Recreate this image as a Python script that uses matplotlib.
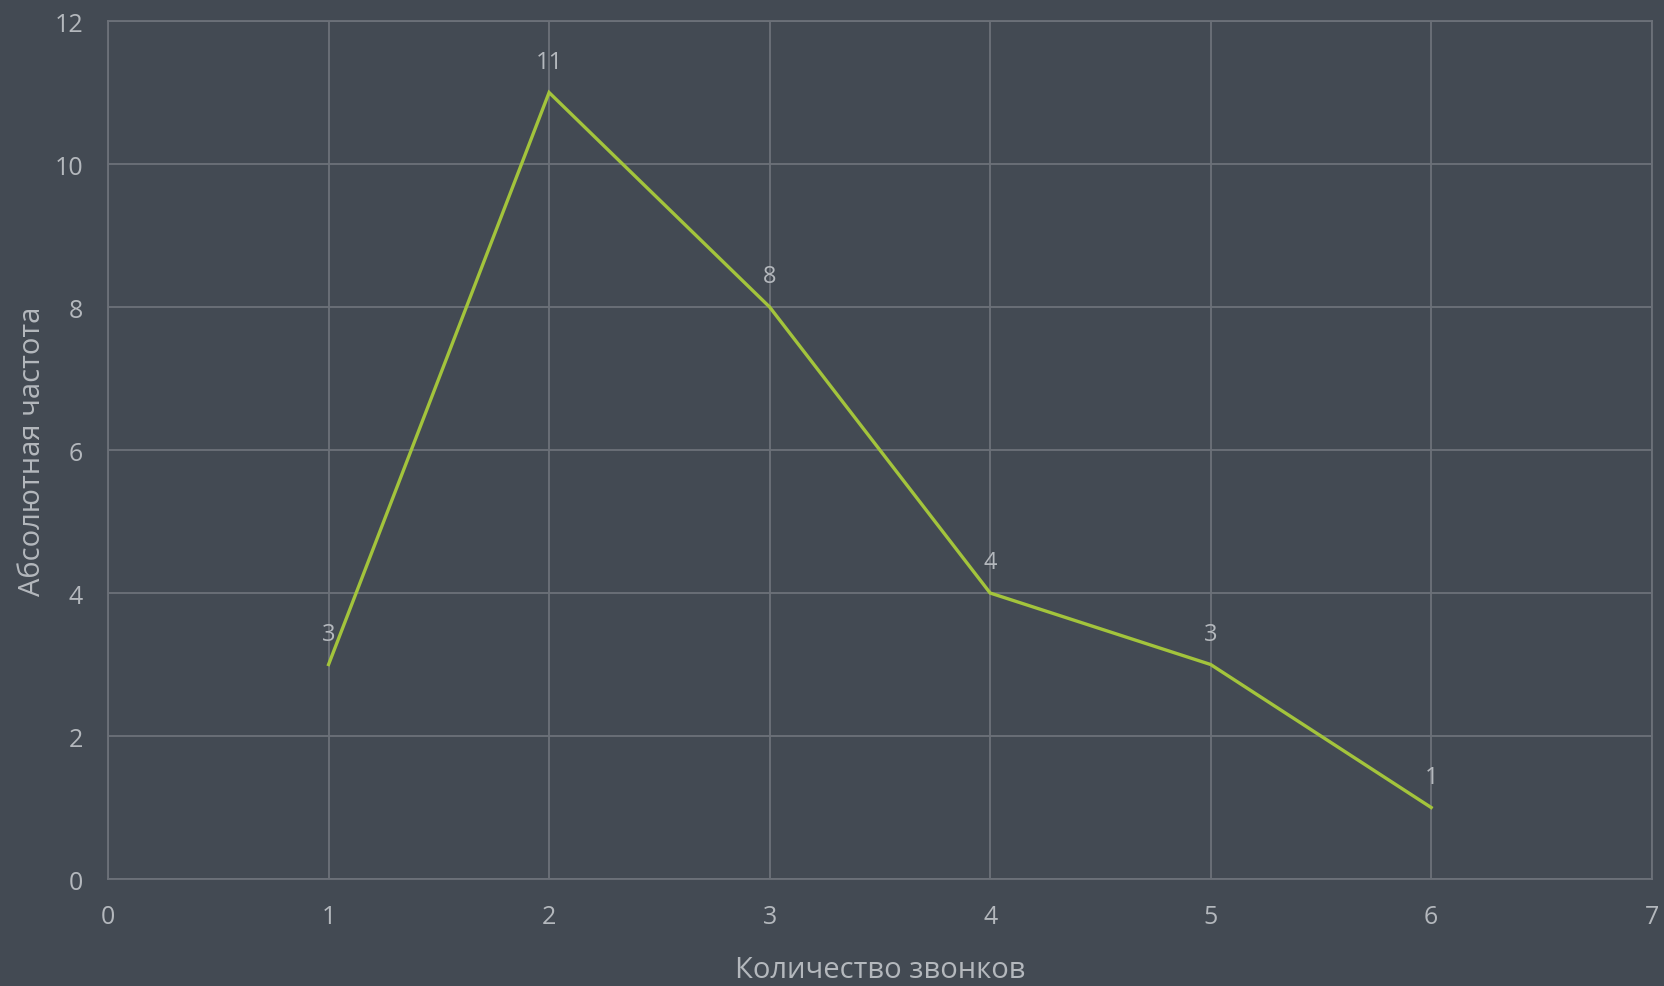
import matplotlib
matplotlib.use("Agg")
import matplotlib.pyplot as plt

calls = [1, 2, 3, 4, 5, 6]
freq = [3, 11, 8, 4, 3, 1]
x_ticks = [0, 1, 2, 3, 4, 5, 6, 7]
y_ticks = [0, 2, 4, 6, 8, 10, 12]

bg = "#434a53"
grid_c = "#6c7179"
text_c = "#b4b8bd"
line_c = "#a3c43c"

plt.rcParams["font.family"] = ["Open Sans", "DejaVu Sans"]

fig = plt.figure(figsize=(16.65, 9.87), dpi=100, facecolor=bg)
ax = fig.add_axes([0.0649, 0.1084, 0.9271, 0.8693])
ax.set_facecolor(bg)

ax.plot(calls, freq, color=line_c, lw=2.4, solid_joinstyle="miter")
for x, y in zip(calls, freq):
    ax.annotate(str(y), (x, y), xytext=(0, 22), textcoords="offset points",
                ha="center", va="center", color=text_c, fontsize=17)

ax.set_xlim(0, 7)
ax.set_ylim(0, 12)
ax.set_xticks(x_ticks)
ax.set_yticks(y_ticks)
ax.grid(True, color=grid_c, lw=1.3)
ax.set_axisbelow(True)
for s in ax.spines.values():
    s.set_color(grid_c)
    s.set_linewidth(1.3)
ax.tick_params(length=0, colors=text_c, labelsize=18)
ax.tick_params(axis="x", pad=18)
ax.tick_params(axis="y", pad=18)

ax.set_xlabel("Количество звонков", color=text_c, fontsize=21, labelpad=19)
ax.set_ylabel("Абсолютная частота", color=text_c, fontsize=21, labelpad=5)

fig.savefig("out.png", dpi=100, facecolor=bg)
